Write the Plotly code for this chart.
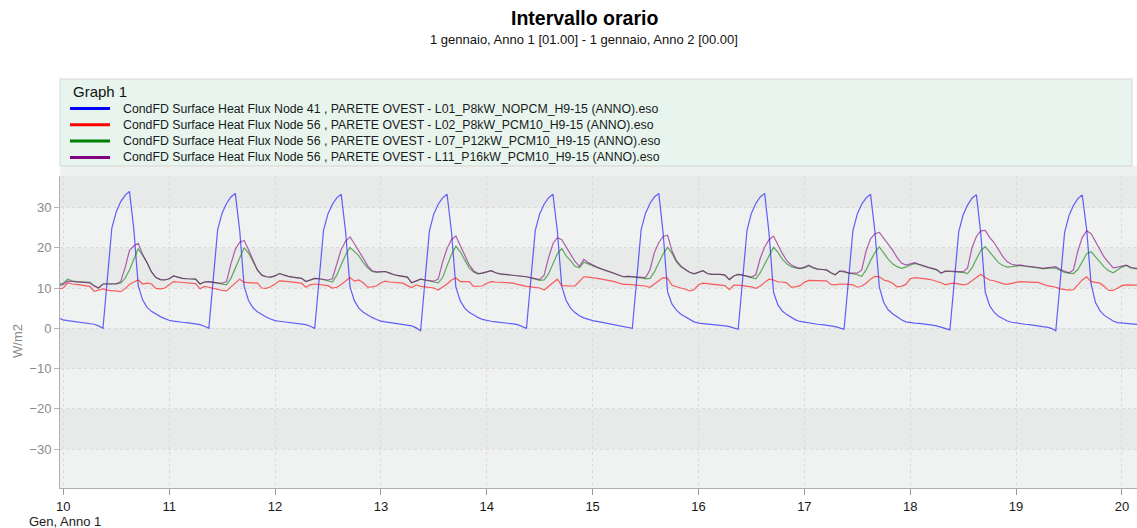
import plotly.graph_objects as go

# ---------------------------------------------------------------------------
# Hourly surface heat flux [W/m2], 9 Jan 23:00 -> 20 Jan 04:00 (one row per day)
# ---------------------------------------------------------------------------
series_names = [
    "CondFD Surface Heat Flux Node 41 , PARETE OVEST - L01_P8kW_NOPCM_H9-15 (ANNO).eso",
    "CondFD Surface Heat Flux Node 56 , PARETE OVEST - L02_P8kW_PCM10_H9-15 (ANNO).eso",
    "CondFD Surface Heat Flux Node 56 , PARETE OVEST - L07_P12kW_PCM10_H9-15 (ANNO).eso",
    "CondFD Surface Heat Flux Node 56 , PARETE OVEST - L11_P16kW_PCM10_H9-15 (ANNO).eso",
]

first_hour = -1          # hour offset of first sample relative to 10 Jan 00:00
first_day = 10

flux_l01 = [
    2.5,
    2.1, 1.9, 1.75, 1.6, 1.5, 1.35, 1.2, 1.0, 0.6, 0.0, 12.4, 24.8, 28.9, 31.4, 33.0, 34.0, 24.5, 10.5, 7.0, 5.2, 4.2, 3.5, 2.9, 2.4,
    2.0, 1.8, 1.6, 1.5, 1.4, 1.25, 1.1, 0.9, 0.5, 0.0, 12.2, 24.5, 28.6, 31.0, 32.6, 33.5, 24.2, 10.4, 6.9, 5.1, 4.1, 3.4, 2.8, 2.3,
    1.9, 1.75, 1.6, 1.5, 1.4, 1.25, 1.1, 0.9, 0.5, 0.0, 12.1, 24.3, 28.4, 30.8, 32.4, 33.3, 24.0, 10.3, 6.8, 5.0, 4.0, 3.3, 2.7, 2.2,
    1.8, 1.6, 1.45, 1.35, 1.2, 1.05, 0.85, 0.6, 0.1, -0.6, 11.8, 24.2, 28.4, 30.8, 32.4, 33.3, 24.0, 10.2, 6.8, 5.0, 4.0, 3.3, 2.7, 2.2,
    1.9, 1.75, 1.6, 1.5, 1.4, 1.25, 1.1, 0.9, 0.5, 0.0, 12.1, 24.3, 28.4, 30.8, 32.4, 33.3, 24.2, 10.4, 6.9, 5.0, 3.9, 3.1, 2.6, 2.2,
    1.9, 1.7, 1.5, 1.3, 1.1, 0.9, 0.7, 0.5, 0.2, 0.0, 12.2, 24.5, 28.6, 31.0, 32.6, 33.5, 23.5, 9.0, 6.0, 4.5, 3.5, 2.9, 2.2, 1.6,
    1.3, 1.2, 1.1, 1.0, 0.9, 0.8, 0.6, 0.4, 0.1, -0.25, 12.0, 24.4, 28.6, 31.0, 32.6, 33.5, 23.5, 9.0, 5.8, 4.3, 3.4, 2.7, 2.1, 1.7,
    1.5, 1.3, 1.1, 1.0, 0.9, 0.8, 0.6, 0.4, 0.1, -0.25, 11.9, 24.2, 28.4, 30.8, 32.4, 33.3, 24.0, 10.2, 6.4, 4.6, 3.6, 2.8, 2.1, 1.6,
    1.4, 1.3, 1.2, 1.1, 0.9, 0.8, 0.6, 0.3, 0.0, -0.4, 11.8, 24.0, 28.2, 30.6, 32.3, 33.2, 23.5, 9.0, 5.6, 4.0, 3.0, 2.3, 1.8, 1.5,
    1.3, 1.1, 1.0, 0.9, 0.7, 0.6, 0.4, 0.3, 0.0, -0.6, 11.6, 23.8, 28.0, 30.5, 32.2, 33.1, 24.5, 11.0, 6.4, 4.4, 3.2, 2.4, 1.8, 1.4,
    1.3, 1.2, 1.1, 1.0, 0.9,
]

flux_l02 = [
    9.8,
    10.0, 11.3, 11.0, 10.9, 10.7, 10.6, 10.4, 9.2, 9.5, 9.8, 9.5, 9.3, 9.3, 9.1, 9.8, 10.9, 11.5, 12.0, 11.0, 11.2, 11.0, 9.9, 9.8, 10.0,
    10.8, 11.6, 11.5, 11.4, 11.3, 11.2, 11.1, 9.8, 10.4, 10.2, 9.9, 9.7, 9.4, 9.3, 10.2, 11.2, 12.2, 11.4, 11.4, 11.3, 11.2, 10.0, 9.9, 10.3,
    11.0, 11.8, 11.7, 11.6, 11.4, 11.3, 11.2, 10.2, 10.8, 11.0, 10.9, 10.8, 10.6, 10.0, 10.2, 10.9, 11.8, 12.6, 11.7, 12.0, 11.3, 10.2, 10.3, 10.5,
    11.3, 11.7, 11.5, 11.4, 11.3, 11.2, 10.6, 10.1, 10.8, 10.4, 10.3, 10.2, 10.0, 9.5, 10.2, 11.0, 12.0, 12.5, 11.6, 11.6, 11.6, 10.4, 10.4, 10.5,
    11.2, 11.6, 11.5, 11.4, 11.3, 11.2, 11.2, 10.9, 10.6, 10.4, 10.3, 10.2, 10.0, 9.5, 10.4, 11.2, 12.2, 10.6, 10.5, 10.5, 10.5, 11.6, 12.8, 12.7,
    12.6, 12.4, 12.2, 12.0, 11.9, 11.6, 11.2, 10.9, 10.9, 10.8, 10.8, 10.7, 10.5, 10.2, 10.9, 11.8, 12.6, 12.4, 10.7, 10.3, 10.0, 9.7, 9.3, 9.6,
    10.8, 11.2, 11.1, 11.0, 10.9, 10.8, 10.6, 9.6, 10.7, 10.7, 10.6, 10.5, 10.3, 9.9, 10.5, 11.4, 12.2, 12.0, 11.5, 11.5, 11.3, 10.2, 10.3, 10.6,
    11.4, 11.9, 11.9, 11.9, 11.9, 11.8, 10.9, 10.8, 11.0, 11.0, 10.9, 10.8, 10.2, 10.5, 11.2, 12.2, 12.9, 12.8, 12.0, 11.7, 11.2, 10.3, 10.4, 10.9,
    12.3, 12.6, 12.5, 12.4, 12.2, 12.0, 11.7, 11.3, 10.8, 11.1, 11.2, 11.0, 10.8, 11.0, 11.8, 12.8, 13.4, 12.6, 12.0, 11.8, 11.4, 11.1, 10.9, 11.2,
    11.4, 11.6, 11.5, 11.5, 11.4, 11.4, 10.9, 10.6, 10.4, 10.2, 9.8, 9.6, 9.5, 9.6, 10.8, 12.0, 12.8, 11.6, 11.4, 11.2, 10.4, 9.4, 9.4, 10.0,
    10.6, 10.8, 10.8, 10.8, 10.7,
]

flux_l07 = [
    11.0,
    11.2, 12.2, 11.8, 11.6, 11.5, 11.5, 11.4, 10.6, 10.0, 11.0, 11.0, 11.0, 11.1, 11.2, 12.4, 14.5, 17.4, 19.8, 18.1, 16.3, 14.0, 12.6, 12.1, 12.0,
    12.3, 13.0, 12.7, 12.4, 12.3, 12.3, 12.2, 11.0, 11.5, 11.6, 11.4, 11.3, 11.1, 10.8, 12.4, 15.0, 17.8, 20.0, 18.7, 16.6, 14.5, 13.2, 12.8, 12.7,
    13.0, 13.6, 13.2, 12.9, 12.7, 12.6, 12.4, 11.6, 12.0, 12.4, 12.3, 12.1, 11.8, 11.5, 13.2, 15.8, 18.2, 20.1, 19.0, 18.0, 16.3, 15.0, 14.1, 13.9,
    14.0, 14.1, 13.7, 13.3, 13.1, 12.9, 12.7, 11.3, 11.8, 12.2, 12.0, 11.7, 11.5, 11.3, 12.6, 15.5, 18.3, 20.4, 19.0, 17.0, 15.0, 14.0, 13.5, 13.7,
    14.0, 14.3, 13.8, 13.5, 13.4, 13.3, 13.2, 13.0, 12.9, 12.8, 12.5, 12.2, 11.9, 12.0, 13.5, 16.0, 18.5, 19.8, 18.0, 16.8, 15.4, 15.0, 16.4, 16.0,
    15.5, 15.1, 14.7, 14.3, 14.0, 13.6, 13.1, 12.8, 12.9, 12.8, 12.7, 12.5, 12.3, 12.4, 14.0, 16.2, 18.5, 20.1, 18.6, 16.5, 15.3, 14.6, 13.9, 13.5,
    14.0, 14.3, 13.6, 13.4, 13.4, 13.4, 13.2, 12.1, 13.0, 13.4, 13.2, 12.9, 12.5, 12.3, 13.8, 16.0, 18.2, 20.1, 18.9, 17.2, 16.0, 15.3, 15.0, 14.8,
    15.0, 15.5, 15.0, 14.7, 14.6, 14.5, 13.8, 13.3, 14.2, 14.0, 13.7, 13.6, 13.3, 12.9, 14.5, 16.8, 18.8, 20.2, 18.6, 17.2, 16.0, 15.3, 14.9, 15.2,
    15.7, 16.1, 15.8, 15.4, 15.1, 14.8, 14.5, 13.7, 14.2, 14.1, 14.0, 13.9, 13.9, 13.6, 15.0, 17.2, 19.3, 20.3, 19.0, 17.5, 16.3, 15.6, 15.2, 15.3,
    15.5, 15.6, 15.4, 15.3, 15.2, 15.0, 14.8, 14.9, 15.0, 15.0, 14.4, 13.9, 13.7, 13.6, 14.6, 16.5, 18.5, 19.0, 17.6, 16.5, 15.2, 14.3, 13.8, 14.5,
    15.2, 15.6, 15.0, 14.8, 14.7,
]

flux_l11 = [
    10.6,
    10.9, 11.7, 11.6, 11.5, 11.4, 11.4, 11.3, 10.5, 10.0, 11.0, 11.0, 10.9, 11.0, 11.6, 15.0, 19.3, 20.5, 21.1, 18.3, 16.3, 14.0, 12.6, 12.1, 12.0,
    12.3, 13.0, 12.7, 12.4, 12.3, 12.3, 12.2, 11.0, 11.5, 11.6, 11.4, 11.3, 11.2, 11.6, 16.0, 19.6, 21.4, 21.8, 19.5, 16.9, 14.5, 13.2, 12.8, 12.7,
    13.0, 13.6, 13.2, 12.9, 12.7, 12.6, 12.4, 11.6, 12.0, 12.4, 12.3, 12.2, 12.0, 12.3, 16.2, 19.6, 21.6, 22.7, 21.0, 19.3, 17.4, 15.5, 14.3, 14.0,
    14.0, 14.1, 13.7, 13.3, 13.1, 12.9, 12.7, 11.3, 11.8, 12.2, 12.0, 11.8, 11.7, 12.2, 16.5, 19.8, 22.0, 22.9, 20.6, 18.2, 15.8, 14.3, 13.6, 13.7,
    14.0, 14.3, 13.8, 13.5, 13.4, 13.3, 13.2, 13.0, 12.9, 12.8, 12.6, 12.4, 12.1, 13.2, 17.5, 21.0, 22.5, 22.0, 20.2, 18.6, 16.6, 15.4, 17.1, 16.3,
    15.7, 15.2, 14.8, 14.3, 14.0, 13.6, 13.1, 12.8, 12.9, 12.8, 12.7, 12.6, 12.6, 14.5, 18.8, 21.3, 22.8, 23.1, 19.2, 16.8, 15.5, 14.6, 13.9, 13.5,
    14.0, 14.3, 13.6, 13.4, 13.4, 13.4, 13.2, 12.1, 13.0, 13.4, 13.2, 13.0, 12.7, 13.3, 17.4, 20.2, 22.0, 22.9, 20.6, 18.6, 16.8, 15.8, 15.2, 14.9,
    15.2, 15.7, 15.1, 14.7, 14.6, 14.5, 13.8, 13.3, 14.2, 14.2, 13.7, 13.7, 13.7, 14.5, 19.2, 22.2, 23.5, 23.8, 22.4, 21.1, 19.4, 17.6, 16.2, 15.7,
    16.0, 16.3, 15.9, 15.5, 15.2, 14.9, 14.6, 13.7, 14.2, 14.2, 14.1, 14.1, 14.0, 15.0, 20.0, 22.8, 24.2, 24.3, 22.6, 21.3, 19.4, 17.8, 16.5, 15.9,
    15.7, 15.7, 15.5, 15.4, 15.3, 15.1, 14.9, 15.0, 15.2, 15.3, 14.6, 14.1, 13.8, 14.5, 19.2, 22.6, 24.2, 23.5, 21.4, 19.4, 17.6, 16.3, 15.0, 15.2,
    15.4, 15.7, 15.1, 14.9, 14.8,
]

y_ticks = [-30, -20, -10, 0, 10, 20, 30]
x_ticks = list(range(10, 21))

# ---------------------------------------------------------------------------
# Styling
# ---------------------------------------------------------------------------
FONT = "Liberation Sans, Arial, sans-serif"
line_colors = ["#0000ff", "#ff0000", "#008000", "#800080"]
all_series = [flux_l01, flux_l02, flux_l07, flux_l11]

W, H = 1137, 528
PLOT_L, PLOT_R, PLOT_T, PLOT_B = 60, 1137, 176, 488
X_RANGE = [9.969, 20.142]
Y_RANGE = [-39.66, 37.82]
TITLE_X = 584


def px(x_pix):
    return (x_pix - PLOT_L) / (PLOT_R - PLOT_L)


def py(y_pix):
    return (PLOT_B - y_pix) / (PLOT_B - PLOT_T)


x_days = [first_day + (first_hour + i) / 24 for i in range(len(flux_l01))]

fig = go.Figure()
for name, vals, color in zip(series_names, all_series, line_colors):
    fig.add_trace(go.Scatter(
        x=x_days, y=vals, mode="lines", name=name,
        line=dict(color=color, width=1.2), opacity=0.6,
        showlegend=False,
    ))

shapes = []
annotations = []

# alternating horizontal bands behind the data (every other 10 W/m2 step)
band_fill = "#e8e9e9"
for lo in (-30, -10, 10, 30):
    shapes.append(dict(type="rect", xref="paper", yref="y", layer="below",
                       x0=0, x1=1, y0=lo, y1=min(lo + 10, Y_RANGE[1]),
                       fillcolor=band_fill, line=dict(width=0)))

# light strip between legend box and plot area
shapes.append(dict(type="rect", xref="paper", yref="paper", layer="below",
                   x0=px(60), x1=px(1137), y0=py(176), y1=py(166),
                   fillcolor="#eff0f0", line=dict(width=0)))

# legend panel
shapes.append(dict(type="rect", xref="paper", yref="paper", layer="below",
                   x0=px(60), x1=px(1132), y0=py(166), y1=py(79),
                   fillcolor="#e7f5ee", line=dict(color="#d6d6d6", width=1)))
annotations.append(dict(text="Graph 1", xref="paper", yref="paper",
                        x=px(71), y=py(91), xanchor="left", yanchor="middle",
                        showarrow=False, font=dict(family=FONT, size=15, color="#111")))
legend_rows = [108.5, 124.8, 141.1, 157.4]
for name, color, row in zip(series_names, line_colors, legend_rows):
    shapes.append(dict(type="line", xref="paper", yref="paper",
                       x0=px(70), x1=px(110), y0=py(row), y1=py(row),
                       line=dict(color=color, width=3)))
    annotations.append(dict(text=name, xref="paper", yref="paper",
                            x=px(121), y=py(row), xanchor="left", yanchor="middle",
                            showarrow=False, font=dict(family=FONT, size=12.3, color="#1a1a1a")))

# titles
annotations.append(dict(text="<b>Intervallo orario</b>", xref="paper", yref="paper",
                        x=px(TITLE_X), y=py(18), xanchor="center", yanchor="middle",
                        showarrow=False, font=dict(family=FONT, size=19.5, color="#000")))
annotations.append(dict(text="1 gennaio, Anno 1 [01.00] - 1 gennaio, Anno 2 [00.00]",
                        xref="paper", yref="paper",
                        x=px(TITLE_X), y=py(39), xanchor="center", yanchor="middle",
                        showarrow=False, font=dict(family=FONT, size=13, color="#111")))

# axis captions
annotations.append(dict(text="W/m2", xref="paper", yref="paper", textangle=-90,
                        x=px(17), y=py(341), xanchor="center", yanchor="middle",
                        showarrow=False, font=dict(family=FONT, size=13, color="#8a8a8a")))
annotations.append(dict(text="Gen, Anno 1", xref="paper", yref="paper",
                        x=px(27), y=py(521), xanchor="left", yanchor="middle",
                        showarrow=False, font=dict(family=FONT, size=13, color="#1a1a1a")))

grid_style = dict(showgrid=True, gridcolor="#dadada", griddash="3px,3px", gridwidth=1)

fig.update_layout(
    width=W, height=H,
    margin=dict(l=PLOT_L, r=W - PLOT_R, t=PLOT_T, b=H - PLOT_B, pad=0),
    paper_bgcolor="white", plot_bgcolor="#f0f1f1",
    font=dict(family=FONT),
    shapes=shapes, annotations=annotations,
    showlegend=False,
    xaxis=dict(range=X_RANGE, tickvals=x_ticks, ticktext=[str(t) for t in x_ticks],
               ticks="outside", ticklen=6, tickcolor="#9a9a9a",
               showline=True, linecolor="#b0b0b0", linewidth=1,
               zeroline=False, tickfont=dict(family=FONT, size=13, color="#1a1a1a"),
               **grid_style),
    yaxis=dict(range=Y_RANGE, tickvals=y_ticks,
               ticks="outside", ticklen=5, tickcolor="#b5b5b5",
               showline=True, linecolor="#b0b0b0", linewidth=1,
               zeroline=False, tickfont=dict(family=FONT, size=13, color="#8a8a8a"),
               **grid_style),
)

fig.write_html("out.html")
